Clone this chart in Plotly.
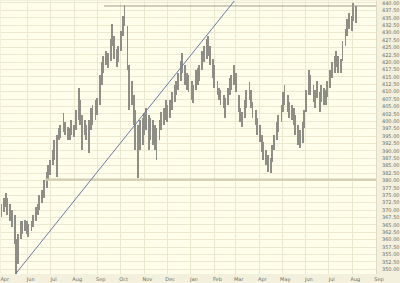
import pandas as pd
import numpy as np
import plotly.graph_objects as go

# Bars: one every 2 trading days, high / low prices
start_date = "2006-04-27"
highs = [371.9, 374.2, 375.9, 374.2, 371.9, 370.2, 368.5, 360.1, 361.8, 366.2,
         366.2, 366.8, 366.2, 365.2, 366.2, 368.5, 370.9, 371.9, 375.2, 376.9,
         380.3, 383.0, 385.3, 387.0, 390.3, 393.7, 395.4, 397.7, 398.7, 402.8,
         399.7, 398.1, 397.7, 400.4, 398.7, 403.7, 411.1, 407.1, 402.1, 400.4,
         398.7, 400.4, 404.4, 405.4, 407.1, 407.8, 415.5, 419.9, 422.2, 423.9,
         423.2, 427.9, 433.0, 428.9, 424.6, 425.6, 430.6, 435.6, 439.3, 432.3,
         418.9, 413.8, 408.8, 403.7, 398.7, 400.4, 401.1, 402.8, 404.4, 402.1,
         401.1, 400.4, 398.7, 397.7, 400.4, 403.1, 404.4, 407.1, 405.4, 407.1,
         409.8, 412.2, 413.8, 416.5, 420.5, 423.2, 418.9, 416.5, 415.5, 413.8,
         412.2, 417.2, 417.9, 418.9, 423.9, 425.6, 427.9, 428.9, 425.6, 421.2,
         418.9, 413.8, 411.1, 410.5, 408.8, 407.8, 411.1, 414.5, 415.5, 418.9,
         416.5, 408.8, 404.4, 403.1, 407.1, 410.5, 413.2, 410.5, 406.4, 403.7,
         401.1, 398.7, 395.4, 393.0, 390.3, 388.6, 387.6, 392.0, 395.4, 399.7,
         402.1, 405.4, 409.8, 412.2, 408.8, 406.4, 405.4, 404.4, 402.1, 398.7,
         397.0, 399.7, 403.7, 410.5, 417.2, 415.5, 412.2, 410.5, 413.8, 409.8,
         412.2, 411.1, 410.5, 413.8, 417.2, 419.9, 422.2, 423.9, 422.2, 421.2,
         427.2, 431.3, 434.6, 436.6, 435.6, 440.0, 439.0]
lows = [367.5, 369.5, 370.9, 368.5, 366.2, 364.2, 358.4, 348.4, 351.7, 360.1,
        361.8, 362.8, 361.8, 360.8, 362.8, 364.2, 366.2, 368.5, 370.2, 372.5,
        374.2, 377.6, 380.3, 382.0, 385.3, 387.0, 381.3, 393.7, 394.4, 396.4,
        395.4, 393.7, 393.7, 395.4, 394.7, 397.0, 400.4, 398.7, 390.3, 395.4,
        393.7, 389.3, 397.0, 398.7, 400.4, 402.1, 405.4, 412.2, 416.5, 418.9,
        417.9, 420.5, 425.6, 421.2, 418.2, 419.9, 423.9, 428.9, 432.3, 417.2,
        403.7, 405.4, 398.7, 390.3, 381.0, 390.3, 392.0, 395.4, 397.0, 390.3,
        393.7, 392.0, 390.3, 387.0, 393.7, 397.0, 398.7, 400.4, 399.7, 401.1,
        403.7, 406.4, 408.8, 410.5, 413.8, 416.5, 412.2, 410.5, 409.8, 407.1,
        406.1, 410.5, 412.2, 413.8, 417.2, 419.9, 421.2, 422.2, 418.9, 414.5,
        411.1, 408.8, 407.1, 405.4, 404.4, 401.1, 405.4, 408.8, 410.5, 412.2,
        409.8, 403.1, 399.7, 398.1, 401.1, 404.4, 407.1, 404.4, 401.1, 398.7,
        395.4, 393.0, 389.7, 387.0, 385.3, 383.0, 382.6, 386.3, 390.3, 393.7,
        396.4, 399.7, 403.1, 405.4, 403.1, 401.1, 400.4, 398.7, 395.4, 392.0,
        391.0, 392.7, 397.7, 403.1, 408.8, 408.8, 406.4, 404.4, 407.8, 403.1,
        406.4, 405.4, 405.4, 408.1, 411.1, 414.5, 416.5, 418.5, 416.5, 416.2,
        420.5, 425.6, 428.9, 431.3, 430.6, 434.0, 433.3]

# Drawn lines
resistance_level = 439.0
resistance_start = "2006-09-09"
support_level = 380.3
support_start = "2006-06-24"
trend_dates = ["2006-05-16", "2007-02-27"]
trend_prices = [348.4, 440.67]

x_range = ["2006-04-27", "2007-09-01"]
y_range = [348.4, 440.67]

month_ticks = ["2006-04-28", "2006-06-01", "2006-07-01", "2006-08-01", "2006-09-01",
               "2006-10-01", "2006-11-01", "2006-12-01", "2007-01-01", "2007-02-01",
               "2007-03-01", "2007-04-01", "2007-05-01", "2007-06-01", "2007-07-01",
               "2007-08-01", "2007-09-01"]
month_labels = ["Apr", "Jun", "Jul", "Aug", "Sep", "Oct", "Nov", "Dec", "Jan", "Feb",
                "Mar", "Apr", "May", "Jun", "Jul", "Aug", "Sep"]
price_ticks = [350 + 2.5 * k for k in range(37)]
price_labels = [f"{v:.2f}" for v in price_ticks]

dates = pd.bdate_range(start=start_date, periods=len(highs), freq="2B")
hi = np.array(highs)
lo = np.array(lows)

fig = go.Figure()
fig.add_trace(go.Bar(
    x=dates, y=hi - lo, base=lo,
    width=1.2 * 86400000,
    marker=dict(color="#8e8e86", line=dict(width=0)),
    hoverinfo="skip",
))
fig.add_trace(go.Scatter(
    x=[support_start, x_range[1]], y=[support_level, support_level],
    mode="lines", line=dict(color="#d2cdb2", width=2.2), hoverinfo="skip",
))
fig.add_trace(go.Scatter(
    x=[resistance_start, x_range[1]], y=[resistance_level, resistance_level],
    mode="lines", line=dict(color="#a29e8c", width=1), hoverinfo="skip",
))
fig.add_trace(go.Scatter(
    x=trend_dates, y=trend_prices,
    mode="lines", line=dict(color="#6a78a8", width=1), hoverinfo="skip",
))

fig.update_layout(
    width=400, height=283,
    margin=dict(l=0, r=23, t=0, b=8),
    showlegend=False,
    plot_bgcolor="#fefeea",
    paper_bgcolor="#f3f1de",
    bargap=0,
    font=dict(family="DejaVu Sans", size=5, color="#6b6b60"),
)
fig.update_xaxes(
    type="date", range=x_range,
    tickmode="array", tickvals=month_ticks, ticktext=month_labels,
    showgrid=True, gridcolor="#ebe8cf", gridwidth=1,
    ticks="", ticklabelshift=3, ticklabelstandoff=1,
    ticklabeloverflow="allow",
    zeroline=False, showline=False, fixedrange=True,
)
fig.update_yaxes(
    side="right", range=y_range,
    tickmode="array", tickvals=price_ticks, ticktext=price_labels,
    showgrid=True, gridcolor="#ebe8cf", gridwidth=1,
    ticks="", ticklabelstandoff=4,
    ticklabeloverflow="allow",
    zeroline=False, showline=True, linecolor="#dedbc4", linewidth=1,
    fixedrange=True,
)

fig.write_html("out.html")
